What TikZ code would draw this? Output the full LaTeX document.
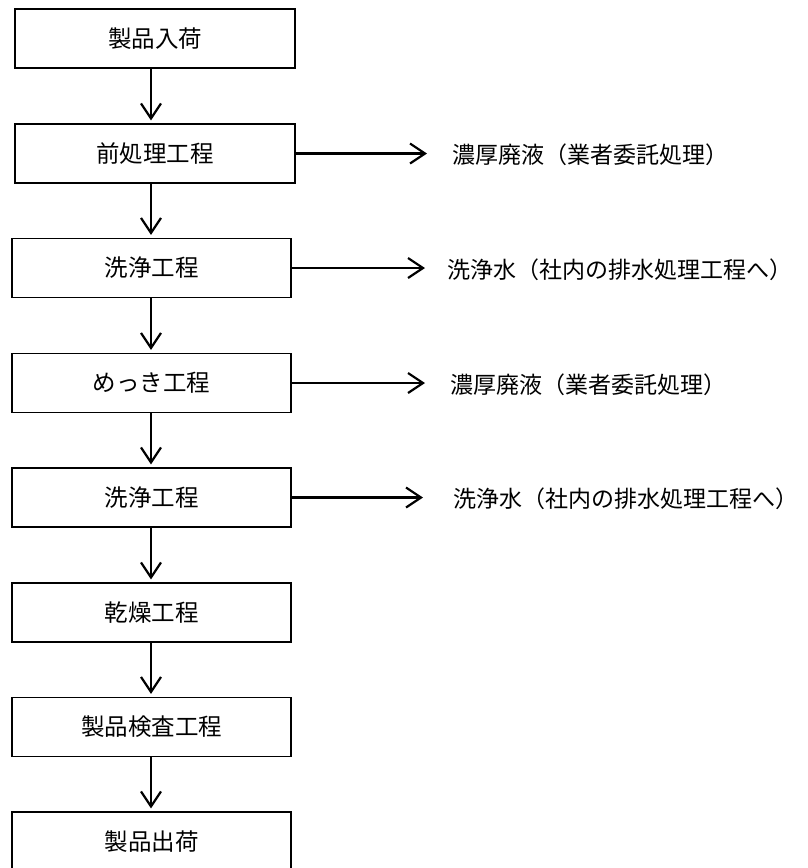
\documentclass[tikz,border=0pt]{standalone}
\usepackage{fontspec}
\newfontfamily\cjk{Noto Sans CJK JP}
\usetikzlibrary{arrows.meta}
\begin{document}
\begin{tikzpicture}[x=1pt,y=-1pt,
  box/.style={draw, line width=1.2pt, minimum height=59pt, inner sep=0pt,
    font=\cjk\fontsize{23.5}{25}\selectfont},
  wideA/.style={minimum width=280pt},
  wideB/.style={minimum width=279pt},
  flow/.style={line width=2.2pt, -{Straight Barb[length=15pt,width=20pt,line width=2.2pt]}},
  lbl/.style={anchor=west, inner sep=0pt, font=\cjk\fontsize{23}{25}\selectfont}]
\clip (0,0) rectangle (807,868);
\fill[white] (0,0) rectangle (807,868);
\coordinate (ax) at (151,0);
\node[box, wideA] (b1) at (155,38.5) {製品入荷};
\node[box, wideA] (b2) at (155,153.5) {前処理工程};
\node[box, wideB] (b3) at (151.5,268) {洗浄工程};
\node[box, wideB] (b4) at (151.5,383) {めっき工程};
\node[box, wideB] (b5) at (151.5,497.5) {洗浄工程};
\node[box, wideB] (b6) at (151.5,612.5) {乾燥工程};
\node[box, wideB] (b7) at (151.5,727) {製品検査工程};
\node[box, wideB] (b8) at (151.5,841.5) {製品出荷};
\foreach \a/\b in {b1/b2,b2/b3,b3/b4,b4/b5,b5/b6,b6/b7,b7/b8}
  \draw[flow, shorten >=3pt] (\a.south -| ax) -- (\b.north -| ax);
\node[lbl] (l2) at (452,155) {濃厚廃液（業者委託処理）};
\node[lbl] (l3) at (447,269.5) {洗浄水（社内の排水処理工程へ）};
\node[lbl] (l4) at (450,384.5) {濃厚廃液（業者委託処理）};
\node[lbl] (l5) at (453,499) {洗浄水（社内の排水処理工程へ）};
\draw[flow, shorten >=25pt] (b2.east) -- (b2.east -| l2.west);
\draw[flow, shorten >=22pt] (b3.east) -- (b3.east -| l3.west);
\draw[flow, shorten >=25pt] (b4.east) -- (b4.east -| l4.west);
\draw[flow, shorten >=30pt] (b5.east) -- (b5.east -| l5.west);
\end{tikzpicture}
\end{document}
